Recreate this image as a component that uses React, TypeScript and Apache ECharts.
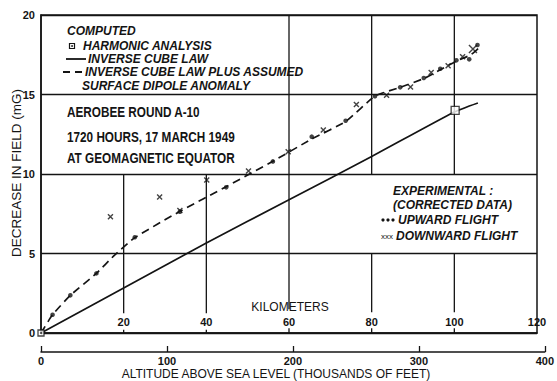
import React, { useEffect, useRef } from "react";
import * as echarts from "echarts";

// ---- data ----
const kmTicks = [0, 20, 40, 60, 80, 100, 120];
const feetTicks = [0, 100, 200, 300, 400];
const mgTicks = [0, 5, 10, 15, 20];

const upwardKm = [2.8, 7.1, 13.4, 22.7, 33.6, 44.8, 56.1, 65.5, 73.7, 80.8, 86.9, 92.6, 96.6, 100.5, 103.6, 105.6];
const upwardMG = [1.15, 2.37, 3.75, 6.02, 7.63, 9.16, 10.79, 12.35, 13.35, 14.89, 15.45, 16.04, 16.62, 17.15, 17.21, 18.11];

const downwardKm = [16.8, 28.7, 33.6, 40.1, 50.2, 59.8, 68.3, 76.3, 83.6, 89.4, 94.4, 98.5, 102.0, 104.5];
const downwardMG = [7.31, 8.55, 7.7, 9.62, 10.19, 11.4, 12.77, 14.37, 14.95, 15.47, 16.38, 16.81, 17.38, 17.86];

const anomalyKm = [0, 2.8, 7.1, 13.4, 18, 22.7, 33.6, 44.8, 56.1, 65.5, 73.7, 80.8, 86.9, 92.6, 96.6, 100.5, 104, 105.8];
const anomalyMG = [0, 1.15, 2.37, 3.75, 4.95, 6.0, 7.65, 9.2, 10.8, 12.2, 13.3, 14.9, 15.45, 16.0, 16.55, 17.1, 17.5, 17.9];

const cubeKm = [0, 20, 40, 60, 80, 100, 105.7];
const cubeMG = [0, 2.83, 5.66, 8.38, 11.1, 13.9, 14.47];

const harmonicKm = [0, 100.2];
const harmonicMG = [0, 14.0];

// vertical grid segments in data units: [km, mG from, km, mG to]
const gridSegments = [
  [20, 10, 20, 1.25], [20, 0, 20, 0.2],
  [40, 10, 40, 1.25], [40, 0, 40, 0.2],
  [60, 20, 60, 1.5], [60, 0, 60, 0.3],
  [80, 20, 80, 10], [80, 5, 80, 1.3], [80, 0, 80, 0.3],
  [100, 20, 100, 10], [100, 5, 100, 1.3], [100, 0, 100, 0.3],
];

const INK = "#141414";
const NUM_FONT = "'Liberation Sans', Arial, sans-serif";
const LEG_FONT = "italic bold 12px 'Liberation Sans', Arial, sans-serif";
const EXP_FONT = "italic bold 12px 'Liberation Sans', Arial, sans-serif";
const NOTE_FONT = "bold 14px 'Liberation Sans', Arial, sans-serif";

const zip = (a: number[], b: number[]) => a.map((v, i) => [v, b[i]]);

export default function App() {
  const ref = useRef<HTMLDivElement>(null);
  useEffect(() => {
    if (!ref.current) return;
    const chart = echarts.init(ref.current, undefined, { renderer: "svg" });
    const txt = (text: string, x: number, y: number, font: string, align = "left", scaleX = 1) => ({
      type: "text",
      x,
      y,
      scaleX,
      silent: true,
      style: { text, font, fill: INK, align, verticalAlign: "middle" },
    });
    const downData = zip(downwardKm, downwardMG).map((p, i, arr) =>
      i === arr.length - 1 ? { value: p, symbolSize: 8 } : { value: p }
    );
    chart.setOption({
      animation: false,
      backgroundColor: "#ffffff",
      grid: [
        { left: 41, right: 20, top: 15, bottom: 48, show: true, borderColor: INK, borderWidth: 1.5, backgroundColor: "transparent" },
        { left: 41, right: 12, top: 340, bottom: 29 },
      ],
      xAxis: [
        {
          type: "value", gridIndex: 0, min: kmTicks[0], max: kmTicks[kmTicks.length - 1], interval: 20,
          axisLine: { show: true, lineStyle: { color: INK, width: 1.5 } },
          axisTick: { show: false },
          splitLine: { show: false },
          axisLabel: {
            inside: true, margin: 6, color: INK, fontSize: 11, fontWeight: "bold", fontFamily: NUM_FONT,
            formatter: (v: number) => (v === 0 ? "" : String(v)),
          },
        },
        {
          type: "value", gridIndex: 1, min: feetTicks[0], max: feetTicks[feetTicks.length - 1], interval: 100,
          axisLine: { show: true, lineStyle: { color: INK, width: 1.5 } },
          axisTick: { show: true, inside: true, length: 6, lineStyle: { color: INK, width: 1.3 } },
          splitLine: { show: false },
          axisLabel: { margin: 3, color: INK, fontSize: 11, fontWeight: "bold", fontFamily: NUM_FONT },
        },
      ],
      yAxis: [
        {
          type: "value", gridIndex: 0, min: mgTicks[0], max: mgTicks[mgTicks.length - 1], interval: 5,
          axisLine: { show: true, lineStyle: { color: INK, width: 1.5 } },
          axisTick: { show: false },
          splitLine: { show: true, lineStyle: { color: INK, width: 1.3 } },
          axisLabel: { margin: 6, color: INK, fontSize: 11, fontWeight: "bold", fontFamily: NUM_FONT },
        },
        { type: "value", gridIndex: 1, show: false, min: 0, max: 1 },
      ],
      graphic: [
        txt("COMPUTED", 67, 31, LEG_FONT),
        { type: "rect", shape: { x: 69.5, y: 43.5, width: 5, height: 5 }, style: { fill: "#fff", stroke: INK, lineWidth: 1.2 } },
        { type: "circle", shape: { cx: 72, cy: 46, r: 0.9 }, style: { fill: INK } },
        txt("HARMONIC ANALYSIS", 83, 46, LEG_FONT),
        { type: "line", shape: { x1: 66, y1: 59, x2: 86, y2: 59 }, style: { stroke: INK, lineWidth: 1.8 } },
        txt("INVERSE CUBE LAW", 88, 59, LEG_FONT),
        { type: "line", shape: { x1: 63, y1: 72, x2: 83, y2: 72 }, style: { stroke: INK, lineWidth: 1.8, lineDash: [7, 5] } },
        txt("INVERSE CUBE LAW PLUS ASSUMED", 85, 72, LEG_FONT),
        txt("SURFACE DIPOLE ANOMALY", 82, 86, LEG_FONT),
        txt("AEROBEE ROUND A-10", 67, 112, NOTE_FONT, "left", 0.84),
        txt("1720 HOURS, 17 MARCH 1949", 67, 137, NOTE_FONT, "left", 0.84),
        txt("AT GEOMAGNETIC EQUATOR", 67, 158, NOTE_FONT, "left", 0.84),
        txt("EXPERIMENTAL :", 393, 191, EXP_FONT),
        txt("(CORRECTED DATA)", 393, 205, EXP_FONT),
        { type: "circle", shape: { cx: 383, cy: 220, r: 1.6 }, style: { fill: INK } },
        { type: "circle", shape: { cx: 388, cy: 220, r: 1.6 }, style: { fill: INK } },
        { type: "circle", shape: { cx: 393, cy: 220, r: 1.6 }, style: { fill: INK } },
        txt("UPWARD FLIGHT", 398, 220, EXP_FONT),
        txt("xxx", 381, 236, "8px 'Liberation Sans', Arial, sans-serif"),
        txt("DOWNWARD FLIGHT", 396, 236, EXP_FONT),
        txt("KILOMETERS", 290, 307, "12px 'Liberation Sans', Arial, sans-serif", "center"),
        txt("ALTITUDE ABOVE SEA LEVEL (THOUSANDS OF FEET)", 276, 374, "12px 'Liberation Sans', Arial, sans-serif", "center"),
        {
          type: "text", x: 16, y: 173, rotation: Math.PI / 2, silent: true,
          style: { text: "DECREASE IN FIELD (mG)", font: "13.5px 'Liberation Sans', Arial, sans-serif", fill: INK, align: "center", verticalAlign: "middle" },
        },
      ],
      series: [
        {
          type: "custom", xAxisIndex: 0, yAxisIndex: 0, silent: true,
          encode: { x: [0, 2], y: [1, 3] },
          data: gridSegments,
          renderItem: (_p: any, api: any) => {
            const a = api.coord([api.value(0), api.value(1)]);
            const b = api.coord([api.value(2), api.value(3)]);
            return { type: "line", shape: { x1: a[0], y1: a[1], x2: b[0], y2: b[1] }, style: { stroke: INK, lineWidth: 1.3 } };
          },
          z: 1,
        },
        {
          type: "line", name: "Inverse cube law", data: zip(cubeKm, cubeMG), showSymbol: false, smooth: 0.2,
          lineStyle: { color: INK, width: 1.7 }, z: 3,
        },
        {
          type: "line", name: "Inverse cube law plus anomaly", data: zip(anomalyKm, anomalyMG), showSymbol: false, smooth: 0.15,
          lineStyle: { color: INK, width: 1.7, type: [8, 5] }, z: 3,
        },
        {
          type: "scatter", name: "Upward flight", data: zip(upwardKm, upwardMG), symbol: "circle", symbolSize: 4.6,
          itemStyle: { color: INK }, z: 5,
        },
        {
          type: "scatter", name: "Downward flight", data: downData, symbol: "path://M0,0L10,10M10,0L0,10", symbolSize: 5,
          itemStyle: { color: "transparent", borderColor: INK, borderWidth: 1.4 }, z: 5,
        },
        {
          type: "scatter", name: "Harmonic analysis", data: zip(harmonicKm, harmonicMG).map((p, i) => ({ value: p, symbolSize: i === 0 ? 6 : 8 })),
          symbol: "rect", itemStyle: { color: "#fff", borderColor: INK, borderWidth: 1.3 }, z: 6,
        },
        {
          type: "scatter", data: [[harmonicKm[0], harmonicMG[0]]], symbol: "circle", symbolSize: 2,
          itemStyle: { color: INK }, z: 7, silent: true,
        },
      ],
    });
    return () => chart.dispose();
  }, []);
  return <div ref={ref} style={{ width: 557, height: 381, position: "absolute", left: 0, top: 0 }} />;
}
